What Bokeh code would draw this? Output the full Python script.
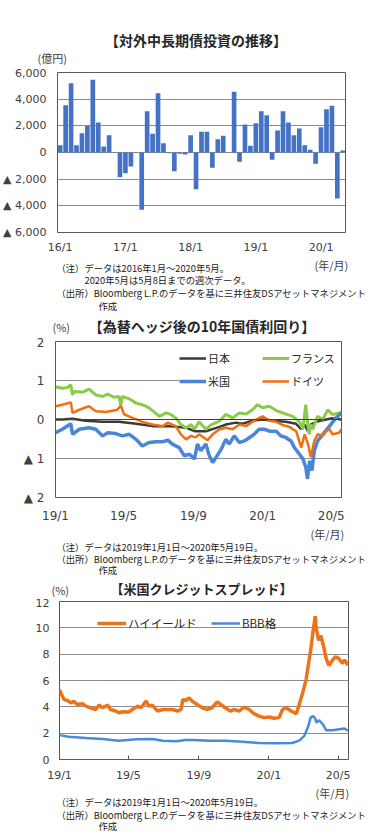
import pandas as pd
from bokeh.plotting import figure
from bokeh.layouts import column
from bokeh.models import (Label, Legend, LegendItem, FixedTicker, CustomJSTickFormatter,
                          Span, Range1d)
from bokeh.embed import file_html
from bokeh.resources import INLINE

JP = "Noto Sans CJK JP"
NUM = "DejaVu Sans"
W = 371

# ---------------- Chart 1 data: 対外中長期債投資 (億円), 2016/1 - 2020/5 ----------------
flows = [550, 3550, 5200, 550, 1450, 2000, 5450, 2250, 450, 1300, 30, -1850,
         -1550, -1050, 20, -4300, 3100, 1400, 4450, 700, -50, -1400, -100, -150,
         1300, -2750, 1550, 1550, -1150, 1000, 1250, 20, 4550, -700, 2100, 500,
         2200, 3100, 2800, -550, 1650, 3100, 2250, 1300, 1800, 550, 200, -850,
         1900, 3250, 3500, -3450, 150]
c1_xticks = [0, 12, 24, 36, 48]
c1_xlabels = ["16/1", "17/1", "18/1", "19/1", "20/1"]
c1_yticks = [-6000, -4000, -2000, 0, 2000, 4000, 6000]
c1_ylabels = ["▲ 6,000", "▲ 4,000", "▲ 2,000", "0", "2,000", "4,000", "6,000"]

# ---------------- Chart 2 data: 為替ヘッジ後の10年国債利回り (%) ----------------
jp_dates = ["2019-01-01", "2019-01-13", "2019-01-31", "2019-02-23", "2019-03-25", "2019-04-23",
            "2019-05-23", "2019-06-21", "2019-07-20", "2019-08-19", "2019-09-03", "2019-09-23",
            "2019-10-17", "2019-10-28", "2019-11-15", "2019-11-27", "2019-12-14", "2020-01-01",
            "2020-01-25", "2020-02-11", "2020-02-29", "2020-03-09", "2020-03-15", "2020-03-21",
            "2020-03-26", "2020-04-04", "2020-04-22", "2020-05-03", "2020-05-19"]
jp_vals = [0.00, 0.00, 0.02, -0.03, -0.06, -0.06, -0.11, -0.17, -0.17, -0.21, -0.30, -0.30,
           -0.19, -0.13, -0.08, -0.11, -0.03, 0.00, -0.04, -0.06, -0.11, -0.25, -0.13, -0.30,
           -0.13, -0.06, 0.00, 0.03, 0.00]

fr_dates = ["2019-01-01", "2019-01-13", "2019-01-22", "2019-01-28", "2019-01-31", "2019-02-03",
            "2019-02-18", "2019-03-01", "2019-03-13", "2019-03-25", "2019-04-03", "2019-04-14",
            "2019-04-23", "2019-04-26", "2019-04-29", "2019-05-11", "2019-05-23", "2019-06-03",
            "2019-06-15", "2019-07-03", "2019-07-15", "2019-07-23", "2019-08-01", "2019-08-10",
            "2019-08-19", "2019-08-28", "2019-09-03", "2019-09-11", "2019-09-23", "2019-10-02",
            "2019-10-17", "2019-10-28", "2019-11-09", "2019-11-21", "2019-12-03", "2019-12-14",
            "2019-12-23", "2020-01-01", "2020-01-13", "2020-01-25", "2020-02-05", "2020-02-23",
            "2020-03-06", "2020-03-12", "2020-03-17", "2020-03-20", "2020-03-23", "2020-03-26",
            "2020-03-29", "2020-04-07", "2020-04-16", "2020-04-25", "2020-05-03", "2020-05-15",
            "2020-05-19"]
fr_vals = [0.84, 0.80, 0.82, 0.89, 0.63, 0.72, 0.70, 0.78, 0.63, 0.59, 0.65, 0.57,
           0.59, 0.38, 0.59, 0.53, 0.42, 0.38, 0.30, 0.08, 0.17, 0.13, 0.04, -0.13,
           -0.21, -0.13, -0.25, -0.06, -0.25, -0.14, -0.04, 0.13, 0.04, 0.17, 0.14, 0.25,
           0.38, 0.30, 0.34, 0.23, 0.17, 0.08, -0.06, -0.25, 0.38, -0.04, -0.38, -0.13,
           -0.25, 0.08, 0.00, 0.25, 0.13, 0.17, 0.19]

us_dates = ["2019-01-01", "2019-01-13", "2019-01-28", "2019-01-31", "2019-02-12", "2019-03-01",
            "2019-03-13", "2019-03-25", "2019-04-03", "2019-04-17", "2019-04-29", "2019-05-11",
            "2019-05-23", "2019-06-03", "2019-06-15", "2019-06-27", "2019-07-09", "2019-07-18",
            "2019-07-26", "2019-08-07", "2019-08-16", "2019-08-25", "2019-09-03", "2019-09-08",
            "2019-09-14", "2019-09-23", "2019-09-29", "2019-10-05", "2019-10-11", "2019-10-20",
            "2019-10-28", "2019-11-03", "2019-11-12", "2019-11-21", "2019-11-30", "2019-12-09",
            "2019-12-17", "2019-12-26", "2020-01-04", "2020-01-13", "2020-01-25", "2020-02-02",
            "2020-02-11", "2020-02-20", "2020-02-26", "2020-03-06", "2020-03-12", "2020-03-17",
            "2020-03-20", "2020-03-24", "2020-03-28", "2020-04-01", "2020-04-07", "2020-04-16",
            "2020-04-28", "2020-05-09", "2020-05-19"]
us_vals = [-0.34, -0.25, -0.11, -0.38, -0.25, -0.21, -0.25, -0.42, -0.34, -0.36, -0.42, -0.38,
           -0.51, -0.68, -0.59, -0.57, -0.57, -0.53, -0.63, -0.72, -0.93, -0.89, -1.01, -0.63,
           -0.80, -0.63, -0.93, -1.10, -0.97, -0.76, -0.51, -0.63, -0.42, -0.59, -0.55, -0.46,
           -0.38, -0.25, -0.25, -0.30, -0.30, -0.42, -0.46, -0.55, -0.72, -0.89, -1.01, -1.22,
           -1.52, -1.06, -1.31, -0.80, -0.55, -0.38, -0.17, 0.04, 0.17]

de_dates = ["2019-01-01", "2019-01-13", "2019-01-28", "2019-01-31", "2019-02-12", "2019-03-01",
            "2019-03-13", "2019-03-31", "2019-04-20", "2019-04-26", "2019-05-02", "2019-05-17",
            "2019-06-03", "2019-06-21", "2019-07-09", "2019-07-18", "2019-08-01", "2019-08-10",
            "2019-08-19", "2019-08-28", "2019-09-05", "2019-09-11", "2019-09-26", "2019-10-05",
            "2019-10-17", "2019-10-28", "2019-11-09", "2019-11-21", "2019-12-03", "2019-12-14",
            "2019-12-26", "2020-01-01", "2020-01-13", "2020-01-25", "2020-02-05", "2020-02-17",
            "2020-02-29", "2020-03-09", "2020-03-15", "2020-03-21", "2020-03-26", "2020-04-01",
            "2020-04-07", "2020-04-16", "2020-04-22", "2020-04-28", "2020-05-03", "2020-05-15",
            "2020-05-19"]
de_vals = [0.34, 0.38, 0.44, 0.17, 0.25, 0.34, 0.21, 0.19, 0.25, 0.36, 0.13, 0.04,
           -0.06, -0.13, -0.17, -0.08, -0.17, -0.38, -0.51, -0.42, -0.46, -0.38, -0.53, -0.38,
           -0.25, -0.21, -0.25, -0.13, -0.17, -0.06, 0.04, 0.08, -0.03, -0.06, -0.14, -0.19,
           -0.30, -0.72, -0.38, -0.63, -0.97, -0.55, -0.38, -0.42, -0.30, -0.25, -0.38, -0.34,
           -0.25]

c2_tick_dates = ["2019-01-01", "2019-05-01", "2019-09-01", "2020-01-01", "2020-05-01"]
c2_tick_labels = ["19/1", "19/5", "19/9", "20/1", "20/5"]
c2_yticks = [-2, -1, 0, 1, 2]
c2_ylabels = ["▲ 2", "▲ 1", "0", "1", "2"]

# ---------------- Chart 3 data: 米国クレジットスプレッド (%) ----------------
hy_dates = ["2019-01-01", "2019-01-05", "2019-01-09", "2019-01-15", "2019-01-21", "2019-01-26",
            "2019-02-01", "2019-02-10", "2019-02-16", "2019-02-27", "2019-03-05", "2019-03-11",
            "2019-03-17", "2019-03-26", "2019-03-31", "2019-04-09", "2019-04-15", "2019-04-21",
            "2019-05-02", "2019-05-08", "2019-05-17", "2019-05-23", "2019-06-01", "2019-06-06",
            "2019-06-12", "2019-06-21", "2019-06-30", "2019-07-09", "2019-07-17", "2019-07-26",
            "2019-08-01", "2019-08-04", "2019-08-09", "2019-08-15", "2019-08-21", "2019-08-29",
            "2019-09-07", "2019-09-15", "2019-09-24", "2019-10-03", "2019-10-09", "2019-10-17",
            "2019-10-26", "2019-11-01", "2019-11-10", "2019-11-19", "2019-11-28", "2019-12-06",
            "2019-12-15", "2019-12-24", "2020-01-02", "2020-01-10", "2020-01-19", "2020-01-25",
            "2020-01-31", "2020-02-09", "2020-02-18", "2020-02-23", "2020-02-29", "2020-03-06",
            "2020-03-10", "2020-03-14", "2020-03-18", "2020-03-22", "2020-03-24", "2020-03-28",
            "2020-04-01", "2020-04-05", "2020-04-10", "2020-04-15", "2020-04-21", "2020-04-26",
            "2020-05-02", "2020-05-08", "2020-05-12", "2020-05-18"]
hy_vals = [5.30, 4.90, 4.55, 4.48, 4.30, 4.43, 4.18, 4.23, 4.05, 3.88, 3.80, 4.13,
           3.93, 4.13, 3.80, 3.68, 3.55, 3.63, 3.60, 3.80, 4.05, 3.93, 4.43, 4.05,
           4.13, 3.68, 3.80, 3.80, 3.80, 3.68, 3.80, 4.55, 4.48, 4.68, 4.40, 4.18,
           3.93, 3.80, 3.93, 4.38, 4.18, 3.93, 3.68, 3.80, 3.68, 3.98, 3.80, 3.48,
           3.30, 3.18, 3.23, 3.13, 3.18, 3.80, 3.93, 3.68, 3.48, 4.18, 5.05, 6.05,
           7.20, 8.30, 9.68, 10.88, 9.90, 9.05, 9.40, 8.68, 7.68, 7.13, 7.55, 7.80,
           7.68, 7.30, 7.55, 7.18]

bbb_dates = ["2019-01-01", "2019-01-17", "2019-02-16", "2019-03-17", "2019-04-15", "2019-05-15",
             "2019-06-12", "2019-06-30", "2019-07-24", "2019-08-09", "2019-08-21", "2019-09-19",
             "2019-10-18", "2019-11-16", "2019-12-15", "2020-01-13", "2020-02-11", "2020-02-23",
             "2020-03-03", "2020-03-10", "2020-03-14", "2020-03-18", "2020-03-22", "2020-03-24",
             "2020-03-29", "2020-04-04", "2020-04-10", "2020-04-21", "2020-05-03", "2020-05-12",
             "2020-05-18"]
bbb_vals = [1.85, 1.73, 1.63, 1.55, 1.43, 1.53, 1.55, 1.43, 1.38, 1.48, 1.48, 1.43,
            1.43, 1.35, 1.25, 1.23, 1.25, 1.43, 1.80, 2.55, 3.18, 3.30, 3.13, 2.80,
            2.98, 2.68, 2.23, 2.23, 2.30, 2.35, 2.18]

c3_yticks = [0, 2, 4, 6, 8, 10, 12]

NOTE_SIZE = "9.3px"


def ms(d):
    return pd.Timestamp(d).value // 10**6


def js_labels(tick_values, tick_texts):
    return CustomJSTickFormatter(args=dict(tv=tick_values, lv=tick_texts),
                                 code="const i = tv.indexOf(tick); return i >= 0 ? lv[i] : '';")


def style(p, xsize="11px", ysize="11px"):
    for ax in p.axis:
        ax.axis_line_color = None
        ax.major_tick_line_color = None
        ax.minor_tick_line_color = None
        ax.major_tick_out = 0
        ax.major_tick_in = 0
        ax.minor_tick_out = 0
        ax.minor_tick_in = 0
        ax.major_label_text_font = NUM
        ax.major_label_text_color = "#404040"
    p.xaxis.major_label_text_font_size = xsize
    p.yaxis.major_label_text_font_size = ysize
    p.outline_line_color = "#595959"
    p.outline_line_width = 1
    p.xgrid.grid_line_color = None
    p.ygrid.grid_line_color = "#8c8c8c"
    p.background_fill_color = "white"
    p.border_fill_color = "white"


def text_panel(h):
    """A blank strip (frame = whole canvas) that holds titles and notes."""
    p = figure(width=W, height=h, output_backend="svg", toolbar_location=None, title=None,
               x_range=Range1d(0, W), y_range=Range1d(0, h),
               x_axis_location=None, y_axis_location=None, frame_align=False,
               min_border=0, min_border_left=0, min_border_right=0,
               min_border_top=0, min_border_bottom=0)
    p.outline_line_color = None
    p.xgrid.grid_line_color = None
    p.ygrid.grid_line_color = None
    p.background_fill_color = "white"
    p.border_fill_color = "white"
    return p


def lab(p, x, y, text, size, align="left", bold=False, color="#1a1a1a"):
    p.add_layout(Label(x=x, y=y, x_units="screen", y_units="screen", text=text,
                       text_font=JP, text_font_size=size, text_align=align,
                       text_baseline="middle", text_color=color,
                       text_font_style="bold" if bold else "normal"))


# ================= Chart 1 =================
h1 = text_panel(66)
lab(h1, 195.5, 27, "【対外中長期債投資の推移】", "14px", align="center", bold=True, color="#262626")
lab(h1, 37, 8.5, "(億円)", "11px", color="#404040")

p1 = figure(width=W, height=190, output_backend="svg", toolbar_location=None, title=None,
            frame_align=False,
            x_range=Range1d(-0.5, len(flows) - 0.5), y_range=Range1d(-6000, 6000),
            min_border_left=57, min_border_right=26, min_border_top=6, min_border_bottom=23)
p1.vbar(x=list(range(len(flows))), top=flows, width=0.86, color="#4472C4", line_color=None)
style(p1)
p1.xaxis.ticker = FixedTicker(ticks=c1_xticks)
p1.xaxis.formatter = js_labels(c1_xticks, c1_xlabels)
p1.xaxis.major_label_standoff = 8
p1.yaxis.ticker = FixedTicker(ticks=c1_yticks)
p1.yaxis.formatter = js_labels(c1_yticks, c1_ylabels)
p1.yaxis.major_label_standoff = 11

f1 = text_panel(59)
lab(f1, 314, 50.5, "(年/月)", "11px", color="#404040")
lab(f1, 56, 47.5, "（注）データは2016年1月～2020年5月。", NOTE_SIZE)
lab(f1, 84, 36, "2020年5月は5月8日までの週次データ。", NOTE_SIZE)
lab(f1, 56, 23, "（出所）Bloomberg L.P.のデータを基に三井住友DSアセットマネジメント", NOTE_SIZE)
lab(f1, 98, 9.5, "作成", NOTE_SIZE)

# ================= Chart 2 =================
h2 = text_panel(20)
lab(h2, 201.5, 10, "【為替ヘッジ後の10年国債利回り】", "14px", align="center", bold=True, color="#262626")
lab(h2, 52, 8.5, "(%)", "11px", color="#404040")

x2_range = Range1d(pd.Timestamp("2019-01-01"), pd.Timestamp("2020-05-19"))
p2 = figure(width=W, height=190, output_backend="svg", toolbar_location=None, title=None,
            frame_align=False,
            x_axis_type="datetime", x_range=x2_range, y_range=Range1d(-2, 2),
            min_border_left=55, min_border_right=30, min_border_top=6, min_border_bottom=26)
style(p2, xsize="12px", ysize="12px")
p2.add_layout(Span(location=0, dimension="width", line_color="#404040", line_width=1))
r_jp = p2.line(pd.to_datetime(jp_dates), jp_vals, line_color="#3a3a3a", line_width=2.5)
r_fr = p2.line(pd.to_datetime(fr_dates), fr_vals, line_color="#8CCB4A", line_width=3)
r_us = p2.line(pd.to_datetime(us_dates), us_vals, line_color="#4A86D8", line_width=3.5)
r_de = p2.line(pd.to_datetime(de_dates), de_vals, line_color="#F07010", line_width=2.5)
t2 = [ms(d) for d in c2_tick_dates]
p2.xaxis.ticker = FixedTicker(ticks=t2)
p2.xaxis.formatter = js_labels(t2, c2_tick_labels)
p2.xaxis.major_label_standoff = 11
p2.yaxis.ticker = FixedTicker(ticks=c2_yticks)
p2.yaxis.formatter = js_labels(c2_yticks, c2_ylabels)
p2.yaxis.major_label_standoff = 11
leg2 = Legend(items=[LegendItem(label="日本", renderers=[r_jp]),
                     LegendItem(label="米国", renderers=[r_us]),
                     LegendItem(label="フランス", renderers=[r_fr]),
                     LegendItem(label="ドイツ", renderers=[r_de])],
              location=(124, 106), ncols=2, orientation="vertical",
              glyph_width=27, glyph_height=20, label_height=20, label_width=51,
              spacing=3, padding=2, margin=0, label_standoff=2,
              label_text_font=JP, label_text_font_size="11px", label_text_color="#262626",
              background_fill_color="white", background_fill_alpha=1.0,
              border_line_color=None)
p2.add_layout(leg2)

f2 = text_panel(53)
lab(f2, 310, 45, "(年/月)", "11px", color="#404040")
lab(f2, 56, 32, "（注）データは2019年1月1日～2020年5月19日。", NOTE_SIZE)
lab(f2, 56, 19.5, "（出所）Bloomberg L.P.のデータを基に三井住友DSアセットマネジメント", NOTE_SIZE)
lab(f2, 98, 8.5, "作成", NOTE_SIZE)

# ================= Chart 3 =================
h3 = text_panel(20)
lab(h3, 201, 10, "【米国クレジットスプレッド】", "13px", align="center", bold=True, color="#262626")
lab(h3, 51, 8.5, "(%)", "11px", color="#404040")

x3_range = Range1d(pd.Timestamp("2019-01-01"), pd.Timestamp("2020-05-19"))
p3 = figure(width=W, height=186, output_backend="svg", toolbar_location=None, title=None,
            frame_align=False,
            x_axis_type="datetime", x_range=x3_range, y_range=Range1d(0, 12),
            min_border_left=59, min_border_right=23, min_border_top=3, min_border_bottom=23)
style(p3)
r_hy = p3.line(pd.to_datetime(hy_dates), hy_vals, line_color="#EE7318", line_width=3.5)
r_bbb = p3.line(pd.to_datetime(bbb_dates), bbb_vals, line_color="#4A8AD8", line_width=2.5)
p3.xaxis.ticker = FixedTicker(ticks=t2)
p3.xaxis.formatter = js_labels(t2, c2_tick_labels)
p3.xaxis.major_tick_line_color = "#595959"
p3.xaxis.major_tick_in = 4
p3.xaxis.major_tick_out = 0
p3.xaxis.major_label_standoff = 9
p3.yaxis.ticker = FixedTicker(ticks=c3_yticks)
p3.yaxis.major_label_standoff = 10
leg3 = Legend(items=[LegendItem(label="ハイイールド", renderers=[r_hy]),
                     LegendItem(label="BBB格", renderers=[r_bbb])],
              location=(38, 126), orientation="horizontal",
              glyph_width=29, glyph_height=20, label_height=20, label_width=80,
              spacing=3, padding=0, margin=0, label_standoff=2,
              label_text_font=JP, label_text_font_size="11.5px", label_text_color="#262626",
              background_fill_alpha=0, border_line_color=None)
p3.add_layout(leg3)

f3 = text_panel(47)
lab(f3, 315, 39, "(年/月)", "11px", color="#404040")
lab(f3, 56, 30, "（注）データは2019年1月1日～2020年5月19日。", NOTE_SIZE)
lab(f3, 56, 16.5, "（出所）Bloomberg L.P.のデータを基に三井住友DSアセットマネジメント", NOTE_SIZE)
lab(f3, 98, 6, "作成", NOTE_SIZE)

layout = column(h1, p1, f1, h2, p2, f2, h3, p3, f3, spacing=0)
open("out.html", "w").write(file_html(layout, INLINE))
